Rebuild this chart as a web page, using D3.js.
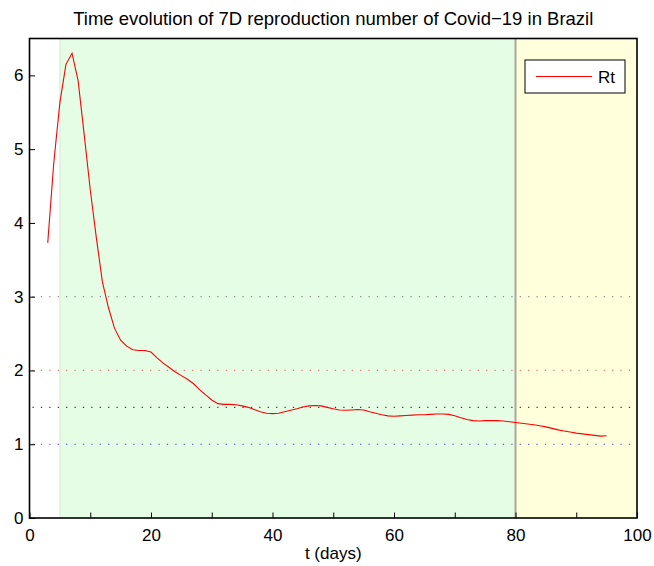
<!DOCTYPE html>
<html>
<head>
<meta charset="utf-8">
<script src="https://cdn.jsdelivr.net/npm/d3@7"></script>
<style>
  body { margin: 0; background: #fff; }
  svg { display: block; font-family: "Liberation Sans", Arial, sans-serif; }
</style>
</head>
<body>
<svg id="chart"></svg>
<script>
// Rt per day
const days = d3.range(3, 96);
const rt = [
  3.73, 4.82, 5.63, 6.15, 6.30, 5.93, 5.20, 4.45, 3.80, 3.20,
  2.85, 2.57, 2.41, 2.33, 2.28, 2.27, 2.27, 2.25, 2.17, 2.10,
  2.04, 1.98, 1.93, 1.88, 1.82, 1.74, 1.67, 1.60, 1.55, 1.54,
  1.54, 1.535, 1.52, 1.50, 1.47, 1.44, 1.42, 1.415, 1.42, 1.44,
  1.46, 1.48, 1.505, 1.52, 1.525, 1.52, 1.50, 1.48, 1.465, 1.46,
  1.465, 1.47, 1.465, 1.44, 1.42, 1.40, 1.385, 1.38, 1.385, 1.39,
  1.395, 1.40, 1.40, 1.405, 1.41, 1.41, 1.405, 1.385, 1.36, 1.335,
  1.32, 1.315, 1.32, 1.32, 1.32, 1.315, 1.305, 1.295, 1.285, 1.275,
  1.265, 1.25, 1.235, 1.215, 1.195, 1.18, 1.165, 1.15, 1.14, 1.13,
  1.12, 1.11, 1.115
];

// shaded phases [start, end, colour]
const phases = [
  [5, 80, "#e5fde5"],
  [80, 100, "#ffffdc"]
];
const phaseSplit = 80;

// reference levels
const refLevels = [3, 2, 1.5, 1];
const refColors = ["#8a8a8a", "#ff6a6a", "#333333", "#3333ff"];

const xTicks = d3.range(0, 101, 10);
const xLabels = d3.range(0, 101, 20);
const yTicks = d3.range(0, 7, 1);

const width = 654, height = 566;
const margin = { top: 38.5, right: 17, bottom: 48, left: 29.5 };

const svg = d3.select("#chart").attr("width", width).attr("height", height);

const x = d3.scaleLinear().domain([0, 100]).range([margin.left, width - margin.right]);
const y = d3.scaleLinear().domain([0, 6.5]).range([height - margin.bottom, margin.top]);

// background phases
svg.selectAll("rect.phase")
  .data(phases)
  .enter()
  .append("rect")
  .attr("class", "phase")
  .attr("x", d => x(d[0]))
  .attr("width", d => x(d[1]) - x(d[0]))
  .attr("y", y(6.5))
  .attr("height", y(0) - y(6.5))
  .attr("fill", d => d[2]);

svg.append("line")
  .attr("x1", x(5)).attr("x2", x(5))
  .attr("y1", y(0)).attr("y2", y(6.5))
  .attr("stroke", "#d6e8d6").attr("stroke-width", 1);

svg.append("line")
  .attr("x1", x(phaseSplit)).attr("x2", x(phaseSplit))
  .attr("y1", y(0)).attr("y2", y(6.5))
  .attr("stroke", "#a6aa9c").attr("stroke-width", 2);

// dotted reference lines
svg.selectAll("line.ref")
  .data(refLevels)
  .enter()
  .append("line")
  .attr("class", "ref")
  .attr("x1", x(0) + 3)
  .attr("x2", x(100))
  .attr("y1", d => y(d))
  .attr("y2", d => y(d))
  .attr("stroke", (d, i) => refColors[i])
  .attr("stroke-width", 1.2)
  .attr("stroke-dasharray", "1.2,7.2");

// curve
const line = d3.line()
  .x((d, i) => x(days[i]))
  .y(d => y(d));

svg.append("path")
  .datum(rt)
  .attr("d", line)
  .attr("fill", "none")
  .attr("stroke", "#ff0000")
  .attr("stroke-width", 1.1);

// axes
const xAxis = d3.axisBottom(x)
  .tickValues(xTicks)
  .tickSizeInner(-5.5)
  .tickSizeOuter(0)
  .tickPadding(10)
  .tickFormat(d => xLabels.includes(d) ? d : "");

const yAxis = d3.axisLeft(y)
  .tickValues(yTicks)
  .tickSizeInner(-5.5)
  .tickSizeOuter(0)
  .tickPadding(6)
  .tickFormat(d3.format("d"));

const gx = svg.append("g")
  .attr("transform", `translate(0, ${y(0)})`)
  .call(xAxis);
gx.select(".domain").remove();
gx.selectAll("text").style("font-size", "17px").attr("fill", "#000").attr("dy", "0.75em");
gx.selectAll("line").attr("stroke", "#000");

const gy = svg.append("g")
  .attr("transform", `translate(${x(0)}, 0)`)
  .call(yAxis);
gy.select(".domain").remove();
gy.selectAll("text").style("font-size", "17px").attr("fill", "#000");
gy.selectAll("line").attr("stroke", "#000");

// box
svg.append("rect")
  .attr("x", x(0))
  .attr("y", y(6.5))
  .attr("width", x(100) - x(0))
  .attr("height", y(0) - y(6.5))
  .attr("fill", "none")
  .attr("stroke", "#000")
  .attr("stroke-width", 1.6);

// title and label
svg.append("text")
  .attr("x", (x(0) + x(100)) / 2)
  .attr("y", 24.5)
  .attr("text-anchor", "middle")
  .style("font-size", "18.5px")
  .text("Time evolution of 7D reproduction number of Covid\u221219 in Brazil");

svg.append("text")
  .attr("x", (x(0) + x(100)) / 2)
  .attr("y", 559)
  .attr("text-anchor", "middle")
  .style("font-size", "17px")
  .text("t (days)");

// legend
const legend = svg.append("g").attr("transform", "translate(525, 60)");
legend.append("rect")
  .attr("width", 100).attr("height", 33)
  .attr("fill", "#fff").attr("stroke", "#000").attr("stroke-width", 1);
legend.append("line")
  .attr("x1", 11).attr("x2", 67)
  .attr("y1", 16.5).attr("y2", 16.5)
  .attr("stroke", "#ff0000").attr("stroke-width", 1.1);
legend.append("text")
  .attr("x", 73).attr("y", 22.5)
  .style("font-size", "17px")
  .text("Rt");
</script>
</body>
</html>
